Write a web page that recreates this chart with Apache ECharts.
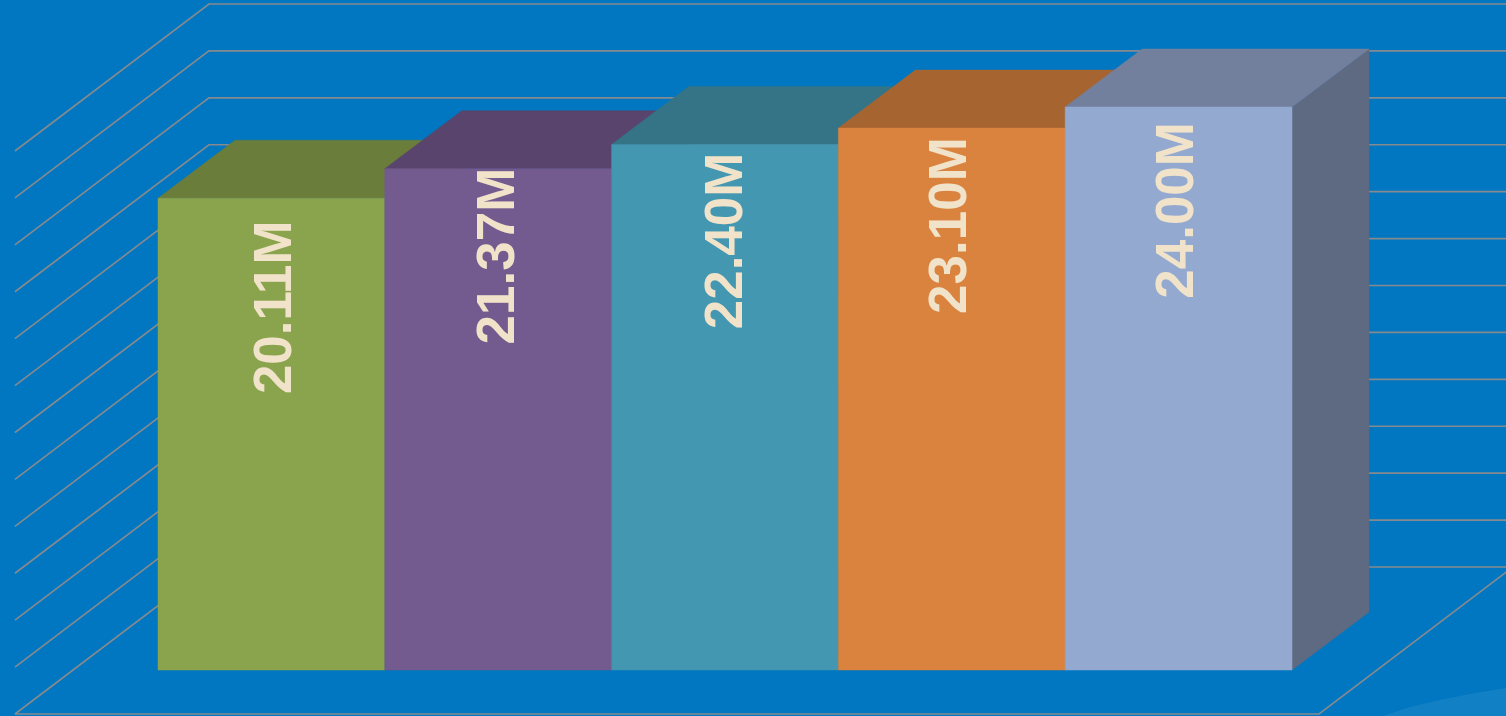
<!DOCTYPE html>
<html>
<head>
<meta charset="utf-8">
<style>
html,body{margin:0;padding:0;background:#0077C0;}
#chart{width:1506px;height:716px;}
</style>
<script src="https://cdn.jsdelivr.net/npm/echarts@6/dist/echarts.min.js"></script>
</head>
<body>
<div id="chart"></div>
<script>
// ---- data ----
const categories = ['1', '2', '3', '4', '5'];
const values = [20.11, 21.37, 22.40, 23.10, 24.00];
const valueLabels = ['20.11M', '21.37M', '22.40M', '23.10M', '24.00M'];
const wallTicks = [0, 2, 4, 6, 8, 10, 12, 14, 16, 18, 20, 22, 24];

// ---- styles ----
const frontColors = ['#8AA44E', '#735A8F', '#4497B0', '#DA833F', '#94A9CF'];
const topColors   = ['#6A7D3B', '#58446D', '#347486', '#A66530', '#72809E'];
const sideColors  = ['#56662F', '#483859', '#2A5E6D', '#8A5428', '#5D6A82'];
const labelDy = [22, -1, 8, 9, 15];     // label end offset below bar top (px)
const labelDx = [5, 1.5, 2, 0, -0.5];   // label horizontal nudge (px)
const gridColor = '#868A8E';
const DEPTH_BAR = [77, -58];     // bar depth offset (px)
const WALL_BACK = [136, -103];   // back wall offset from bar front plane
const WALL_FRONT = [-58, 44];    // floor front edge offset from bar front plane
const SIDE_PAD = 0.375;          // floor extension beyond outer bars (in bands)

const chart = echarts.init(document.getElementById('chart'));

function wallRender(params, api) {
  const v = api.value(1);
  const y = api.coord([0, v])[1];
  const bw = api.size([1, 0])[0];
  const x0 = api.coord([0, 0])[0] - bw / 2 - bw * SIDE_PAD;
  const x1 = api.coord([categories.length - 1, 0])[0] + bw / 2 + bw * SIDE_PAD;
  const st = { stroke: gridColor, lineWidth: 1.6, fill: null };
  const children = [{
    type: 'polyline',
    shape: { points: [
      [x0 + WALL_FRONT[0], y + WALL_FRONT[1]],
      [x0 + WALL_BACK[0], y + WALL_BACK[1]],
      [x1 + WALL_BACK[0], y + WALL_BACK[1]]
    ] },
    style: st
  }];
  if (v === 0) {
    children.push({
      type: 'polyline',
      shape: { points: [
        [x0 + WALL_FRONT[0], y + WALL_FRONT[1]],
        [x1 + WALL_FRONT[0], y + WALL_FRONT[1]],
        [x1 + WALL_BACK[0], y + WALL_BACK[1]]
      ] },
      style: st
    });
  }
  return { type: 'group', children };
}

function barRender(params, api) {
  const i = api.value(0);
  const v = api.value(1);
  const top = api.coord([i, v]);
  const base = api.coord([i, 0]);
  const bw = api.size([1, 0])[0];
  const xl = top[0] - bw / 2, xr = top[0] + bw / 2;
  const ty = top[1], by = base[1];
  const dx = DEPTH_BAR[0], dy = DEPTH_BAR[1];
  return {
    type: 'group',
    children: [
      { type: 'polygon',
        shape: { points: [[xr, ty], [xr + dx, ty + dy], [xr + dx, by + dy], [xr, by]] },
        style: { fill: sideColors[i], stroke: sideColors[i], lineWidth: 0.5 } },
      { type: 'polygon',
        shape: { points: [[xl, ty], [xr, ty], [xr + dx, ty + dy], [xl + dx, ty + dy]] },
        style: { fill: topColors[i], stroke: topColors[i], lineWidth: 0.5 } },
      { type: 'rect',
        shape: { x: xl, y: ty, width: bw, height: by - ty },
        style: { fill: frontColors[i], stroke: frontColors[i], lineWidth: 0.5 } },
      { type: 'text',
        x: top[0] + labelDx[i], y: ty + labelDy[i],
        rotation: Math.PI / 2,
        style: {
          text: valueLabels[i],
          fill: '#F1E3C9',
          font: 'bold 53px "Liberation Sans", Arial, sans-serif',
          align: 'right',
          verticalAlign: 'middle'
        } }
    ]
  };
}

chart.setOption({
  backgroundColor: '#0077C0',
  animation: false,
  grid: { left: 158, right: 214, top: 107, bottom: 46 },
  xAxis: { type: 'category', data: categories, show: false, boundaryGap: true },
  yAxis: { type: 'value', min: 0, max: 24, interval: 2, show: false, splitLine: { show: false } },
  graphic: [
    { type: 'polygon', z: 0, silent: true,
      shape: { points: [[1383, 716], [1410, 707], [1440, 700], [1470, 694], [1506, 688], [1506, 716]] },
      style: { fill: 'rgba(255,255,255,0.07)' } }
  ],
  series: [
    { type: 'custom', z: 1, silent: true, clip: false,
      data: wallTicks.map(t => [0, t]),
      encode: { x: 0, y: 1 },
      renderItem: wallRender },
    { type: 'custom', z: 2, silent: true, clip: false,
      data: values.map((v, i) => [i, v]),
      encode: { x: 0, y: 1 },
      renderItem: barRender }
  ]
});
</script>
</body>
</html>
